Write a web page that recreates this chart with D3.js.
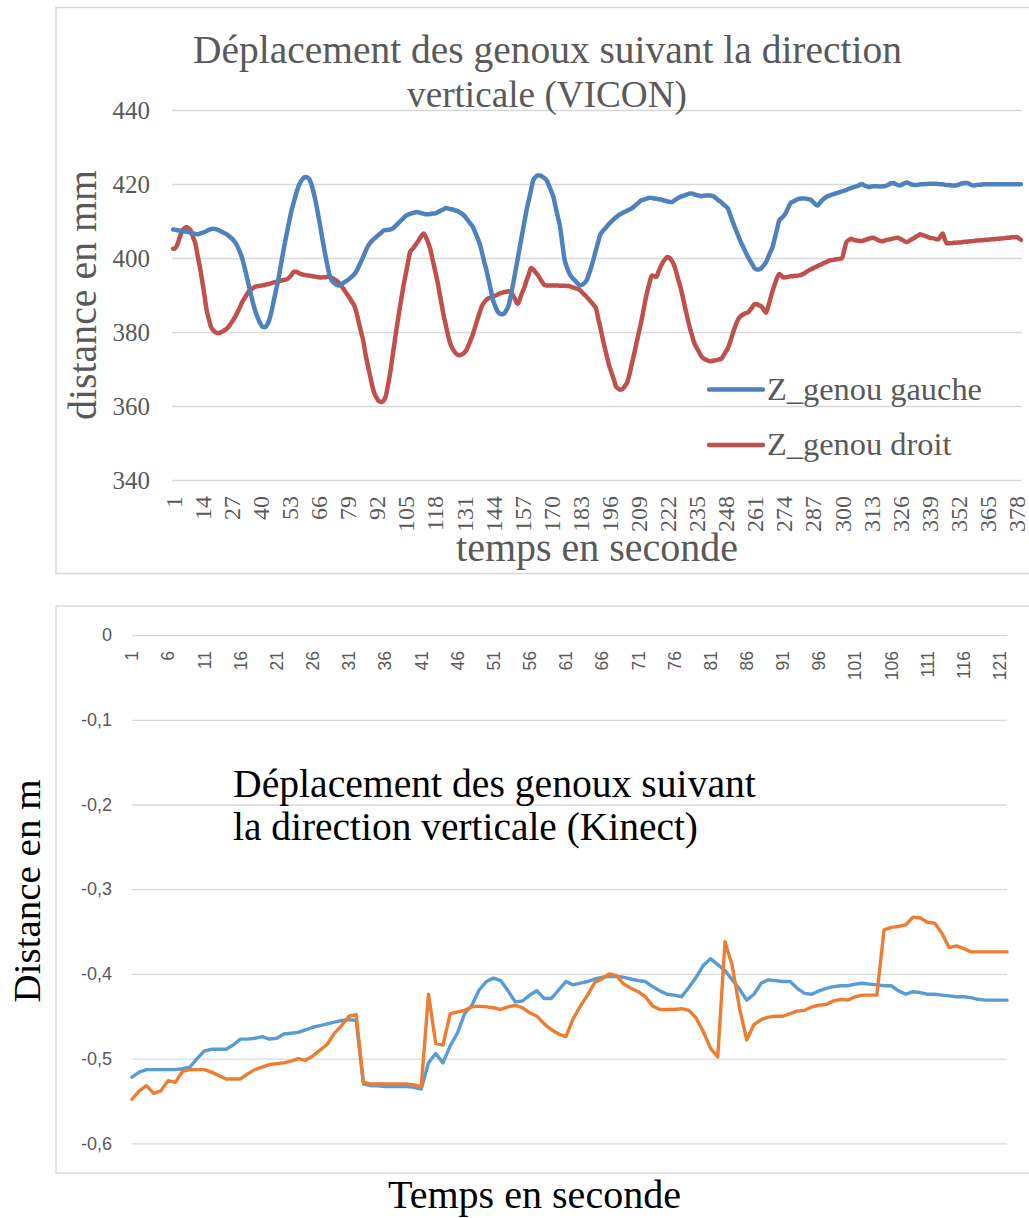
<!DOCTYPE html>
<html>
<head>
<meta charset="utf-8">
<script src="https://cdn.jsdelivr.net/npm/d3@7"></script>
<style>
  body { margin: 0; background: #fff; }
  svg { display: block; }
</style>
</head>
<body>
<svg id="chart" width="1029" height="1218"></svg>
<script>
// ---------- VICON : knee displacement (mm), one sample per category 1..380 ----------
const viconCategories = d3.range(1, 381);
const viconTickLabels = [1, 14, 27, 40, 53, 66, 79, 92, 105, 118, 131, 144, 157, 170, 183, 196, 209, 222, 235, 248, 261, 274, 287, 300, 313, 326, 339, 352, 365, 378];
const viconYTicks = [340, 360, 380, 400, 420, 440];

const zGenouGauche = [
  407.7, 407.6, 407.5, 407.4, 407.3, 407.2, 407.1, 407.0, 406.8, 406.6,
  406.5, 406.4, 406.6, 406.8, 407.0, 407.3, 407.6, 407.8, 407.9, 407.8,
  407.6, 407.3, 407.0, 406.7, 406.4, 405.9, 405.4, 404.8, 404.0, 402.8,
  401.4, 399.7, 397.3, 394.8, 392.2, 389.6, 387.2, 385.2, 383.6, 382.3,
  381.4, 381.3, 381.9, 383.3, 385.6, 388.5, 391.3, 394.0, 397.5, 400.9,
  404.2, 407.2, 410.2, 413.0, 415.2, 417.4, 419.3, 420.6, 421.4, 421.9,
  421.8, 421.2, 419.6, 417.2, 414.4, 411.2, 407.8, 404.2, 401.0, 397.9,
  395.2, 393.9, 393.2, 392.8, 392.6, 392.8, 393.2, 393.6, 394.0, 394.5,
  395.0, 395.6, 396.5, 397.7, 399.0, 400.4, 401.8, 403.1, 404.0, 404.7,
  405.3, 405.8, 406.3, 406.8, 407.4, 407.6, 407.6, 407.7, 407.9, 408.4,
  409.0, 409.6, 410.2, 410.8, 411.4, 411.7, 411.9, 412.1, 412.3, 412.4,
  412.3, 412.1, 412.0, 411.8, 411.8, 411.9, 412.0, 412.0, 412.3, 412.6,
  412.9, 413.2, 413.5, 413.4, 413.2, 413.1, 412.9, 412.7, 412.4, 412.0,
  411.5, 410.8, 410.0, 409.2, 408.4, 407.0, 405.5, 404.0, 401.7, 399.2,
  396.9, 394.2, 391.4, 388.7, 387.0, 385.6, 385.0, 384.8, 385.0, 385.9,
  387.2, 389.9, 393.0, 396.3, 399.6, 403.0, 406.3, 409.6, 412.9, 415.6,
  418.4, 421.0, 421.9, 422.3, 422.3, 422.0, 421.6, 421.0, 419.6, 418.1,
  416.5, 413.8, 411.1, 408.4, 403.9, 399.6, 397.6, 396.0, 395.0, 394.3,
  393.7, 393.0, 392.6, 392.8, 393.3, 394.1, 395.8, 397.7, 399.8, 402.1,
  404.3, 406.3, 407.2, 407.9, 408.6, 409.3, 409.9, 410.5, 411.0, 411.5,
  411.9, 412.2, 412.5, 412.8, 413.1, 413.4, 413.9, 414.4, 414.9, 415.5,
  415.7, 415.9, 416.1, 416.3, 416.2, 416.1, 416.0, 415.9, 415.8, 415.6,
  415.5, 415.3, 415.2, 415.1, 415.5, 415.9, 416.3, 416.6, 416.8, 417.0,
  417.2, 417.4, 417.4, 417.2, 417.0, 416.9, 416.7, 416.8, 416.9, 416.9,
  416.9, 416.8, 416.5, 416.0, 415.5, 415.1, 414.5, 414.0, 413.4, 411.8,
  410.1, 408.5, 407.0, 405.5, 404.0, 402.8, 401.5, 400.3, 399.2, 398.2,
  397.2, 396.9, 396.9, 397.3, 398.0, 398.8, 400.2, 401.6, 403.0, 405.4,
  407.8, 410.2, 410.8, 411.4, 412.3, 413.6, 414.8, 415.2, 415.5, 415.8,
  416.0, 416.1, 416.1, 416.0, 415.9, 415.8, 415.2, 414.6, 414.2, 414.8,
  415.5, 416.1, 416.5, 416.8, 417.0, 417.2, 417.4, 417.6, 417.8, 418.0,
  418.2, 418.4, 418.7, 418.9, 419.1, 419.3, 419.5, 419.8, 419.9, 419.6,
  419.4, 419.2, 419.3, 419.4, 419.4, 419.4, 419.3, 419.4, 419.4, 419.6,
  419.9, 420.2, 420.3, 420.0, 419.7, 419.6, 419.9, 420.2, 420.4, 420.2,
  419.9, 419.8, 419.7, 419.8, 419.9, 419.9, 420.0, 420.0, 420.1, 420.1,
  420.1, 420.1, 420.0, 419.9, 419.9, 419.8, 419.7, 419.7, 419.6, 419.6,
  419.6, 419.8, 420.0, 420.2, 420.3, 420.3, 420.0, 419.7, 419.6, 419.7,
  419.8, 419.8, 419.9, 419.9, 419.9, 419.9, 419.9, 419.9, 419.9, 419.9,
  419.9, 419.9, 419.9, 419.9, 419.9, 419.9, 419.9, 419.9, 419.9, 419.9
];

const zGenouDroit = [
  402.5, 402.7, 403.8, 405.7, 407.2, 408.0, 408.4, 408.0, 407.3, 405.5,
  403.8, 400.5, 397.4, 393.8, 389.9, 385.9, 383.4, 381.3, 380.4, 379.9,
  379.7, 379.8, 380.1, 380.5, 380.9, 381.6, 382.5, 383.4, 384.4, 385.6,
  386.9, 388.2, 389.2, 390.2, 391.1, 391.6, 392.0, 392.3, 392.4, 392.5,
  392.6, 392.7, 392.9, 393.0, 393.2, 393.4, 393.5, 393.7, 393.8, 394.0,
  394.1, 394.3, 394.8, 395.5, 396.3, 396.3, 396.0, 395.7, 395.5, 395.4,
  395.3, 395.2, 395.1, 395.0, 394.9, 394.8, 394.7, 394.8, 394.8, 394.9,
  394.9, 394.6, 394.3, 393.9, 393.4, 392.6, 391.8, 390.9, 390.0, 389.1,
  388.1, 387.1, 385.2, 382.6, 380.1, 377.6, 374.0, 371.1, 368.3, 365.5,
  363.4, 362.2, 361.3, 361.1, 361.4, 362.5, 365.4, 368.8, 373.0, 377.2,
  381.4, 385.2, 388.9, 392.5, 395.6, 398.8, 401.7, 402.4, 403.2, 404.1,
  405.0, 406.0, 406.6, 405.6, 404.2, 402.3, 399.6, 396.9, 394.2, 390.9,
  387.6, 384.3, 381.6, 378.9, 376.7, 375.4, 374.5, 373.9, 373.7, 373.9,
  374.3, 375.0, 376.3, 377.8, 379.4, 381.3, 383.3, 385.2, 386.9, 388.0,
  388.7, 389.1, 389.3, 389.6, 389.8, 390.1, 390.4, 390.6, 390.8, 390.9,
  391.0, 390.8, 389.8, 388.7, 387.6, 388.9, 390.6, 392.0, 393.9, 395.6,
  397.3, 396.9, 396.2, 395.4, 394.5, 393.5, 392.7, 392.6, 392.6, 392.6,
  392.6, 392.6, 392.6, 392.5, 392.5, 392.5, 392.4, 392.4, 392.2, 392.0,
  391.8, 391.6, 391.2, 390.6, 390.0, 389.4, 388.7, 388.0, 387.3, 386.5,
  383.8, 381.2, 378.3, 375.7, 373.2, 370.8, 369.0, 367.2, 365.3, 364.7,
  364.4, 364.6, 365.4, 366.4, 368.5, 371.2, 373.8, 376.6, 379.3, 382.0,
  385.0, 388.2, 391.0, 393.3, 395.3, 395.1, 394.9, 396.3, 397.7, 398.9,
  399.7, 400.3, 400.0, 399.2, 398.0, 396.0, 393.8, 391.7, 389.0, 386.3,
  383.6, 381.2, 379.0, 377.0, 375.8, 374.7, 373.6, 372.9, 372.6, 372.3,
  372.1, 372.2, 372.3, 372.4, 372.6, 372.7, 373.6, 374.6, 375.6, 377.3,
  379.2, 381.0, 382.6, 383.8, 384.4, 384.8, 385.1, 385.3, 386.0, 386.8,
  387.6, 387.5, 387.2, 386.9, 386.1, 385.2, 386.8, 389.0, 391.1, 392.9,
  394.6, 395.7, 395.2, 394.7, 394.8, 394.9, 395.1, 395.1, 395.2, 395.2,
  395.3, 395.5, 395.8, 396.2, 396.6, 396.9, 397.2, 397.5, 397.8, 398.1,
  398.3, 398.7, 398.9, 399.2, 399.4, 399.5, 399.6, 399.7, 399.8, 399.9,
  402.0, 404.3, 404.8, 405.2, 405.0, 404.8, 404.7, 404.6, 404.6, 404.8,
  405.0, 405.2, 405.4, 405.5, 405.2, 404.9, 404.6, 404.5, 404.7, 404.9,
  405.0, 405.1, 405.3, 405.4, 405.5, 405.2, 404.9, 404.5, 404.3, 404.6,
  405.0, 405.3, 405.7, 406.1, 406.4, 406.2, 406.0, 405.8, 405.5, 405.4,
  405.3, 405.1, 405.0, 405.8, 406.6, 405.0, 403.9, 404.0, 404.0, 404.1,
  404.1, 404.2, 404.2, 404.3, 404.4, 404.4, 404.5, 404.5, 404.6, 404.7,
  404.7, 404.8, 404.8, 404.9, 404.9, 405.0, 405.1, 405.1, 405.2, 405.2,
  405.3, 405.3, 405.4, 405.5, 405.5, 405.6, 405.6, 405.7, 405.4, 404.9
];

// ---------- Kinect : knee displacement (m), one sample per category 1..122 ----------
const kinectCategories = d3.range(1, 123);
const kinectTickLabels = [1, 6, 11, 16, 21, 26, 31, 36, 41, 46, 51, 56, 61, 66, 71, 76, 81, 86, 91, 96, 101, 106, 111, 116, 121];
const kinectYTicks = [0, -0.1, -0.2, -0.3, -0.4, -0.5, -0.6];

const kinectGauche = [
  -0.522, -0.516, -0.513, -0.513, -0.513, -0.513, -0.513, -0.512, -0.510, -0.500,
  -0.491, -0.489, -0.489, -0.489, -0.484, -0.477, -0.477, -0.476, -0.474, -0.477,
  -0.476, -0.471, -0.470, -0.469, -0.466, -0.463, -0.461, -0.459, -0.457, -0.455,
  -0.454, -0.455, -0.530, -0.532, -0.532, -0.533, -0.533, -0.533, -0.533, -0.534,
  -0.536, -0.505, -0.494, -0.505, -0.485, -0.470, -0.447, -0.437, -0.419, -0.409,
  -0.405, -0.408, -0.420, -0.433, -0.432, -0.425, -0.420, -0.429, -0.429, -0.419,
  -0.409, -0.413, -0.411, -0.409, -0.406, -0.404, -0.403, -0.403, -0.404, -0.406,
  -0.408, -0.409, -0.415, -0.420, -0.424, -0.425, -0.427, -0.416, -0.404, -0.390,
  -0.382, -0.389, -0.396, -0.407, -0.418, -0.431, -0.424, -0.411, -0.407, -0.408,
  -0.409, -0.409, -0.417, -0.423, -0.424, -0.420, -0.417, -0.415, -0.414, -0.414,
  -0.412, -0.411, -0.412, -0.413, -0.414, -0.414, -0.420, -0.424, -0.421, -0.422,
  -0.424, -0.424, -0.425, -0.426, -0.427, -0.427, -0.428, -0.430, -0.431, -0.431,
  -0.431, -0.431
];

const kinectDroit = [
  -0.548, -0.538, -0.532, -0.541, -0.538, -0.526, -0.528, -0.515, -0.513, -0.513,
  -0.513, -0.516, -0.520, -0.524, -0.524, -0.524, -0.518, -0.513, -0.510, -0.507,
  -0.506, -0.505, -0.503, -0.500, -0.502, -0.497, -0.490, -0.483, -0.470, -0.461,
  -0.450, -0.448, -0.528, -0.530, -0.530, -0.530, -0.530, -0.530, -0.530, -0.531,
  -0.533, -0.424, -0.482, -0.484, -0.447, -0.445, -0.443, -0.439, -0.438, -0.439,
  -0.440, -0.442, -0.439, -0.437, -0.440, -0.446, -0.450, -0.459, -0.466, -0.471,
  -0.474, -0.453, -0.438, -0.425, -0.410, -0.406, -0.400, -0.402, -0.412, -0.417,
  -0.421, -0.427, -0.438, -0.442, -0.442, -0.442, -0.441, -0.443, -0.452, -0.468,
  -0.488, -0.498, -0.362, -0.390, -0.440, -0.478, -0.460, -0.454, -0.451, -0.450,
  -0.450, -0.447, -0.444, -0.443, -0.439, -0.437, -0.436, -0.432, -0.430, -0.431,
  -0.427, -0.425, -0.425, -0.425, -0.348, -0.345, -0.344, -0.342, -0.333, -0.334,
  -0.339, -0.340, -0.352, -0.369, -0.367, -0.370, -0.374, -0.374, -0.374, -0.374,
  -0.374, -0.374
];

// ---------- shared helpers ----------
const svg = d3.select('#chart');
const GRID = '#d9d9d9';
const GREY_TEXT = '#595959';
const SERIF = "'Liberation Serif', 'DejaVu Serif', serif";
const SANS = "'Liberation Sans', Arial, sans-serif";

// scale a text's font size so its rendered width equals the wanted width
function fitWidth(sel, width) {
  const w = sel.node().getComputedTextLength();
  const fs = parseFloat(sel.attr('font-size'));
  sel.attr('font-size', (fs * width / w).toFixed(2));
  return sel;
}

// ================= VICON chart =================
const viconG = svg.append('g');
viconG.append('rect')
  .attr('x', 56).attr('y', 7.5).attr('width', 1000).attr('height', 566)
  .attr('fill', '#fff').attr('stroke', GRID).attr('stroke-width', 1.6);

const xV = d3.scalePoint().domain(viconCategories).range([172, 1022]).padding(0.5);
const yV = d3.scaleLinear().domain([340, 440]).range([480, 110]);

// horizontal gridlines + value labels
viconG.append('g')
  .attr('transform', 'translate(172,0)')
  .call(d3.axisLeft(yV).tickValues(viconYTicks).tickSize(-850).tickPadding(22).tickFormat(d3.format('d')))
  .call(g => g.select('.domain').remove())
  .call(g => g.selectAll('.tick line').attr('stroke', GRID).attr('stroke-width', 1.6))
  .call(g => g.selectAll('.tick text')
    .attr('fill', GREY_TEXT).attr('font-family', SERIF).attr('font-size', 25));

// rotated category labels
viconG.append('g').selectAll('text')
  .data(viconTickLabels)
  .join('text')
  .attr('transform', d => `translate(${xV(d)},496) rotate(-90)`)
  .attr('text-anchor', 'end')
  .attr('dy', '0.36em')
  .attr('fill', GREY_TEXT)
  .attr('font-family', SERIF)
  .attr('font-size', 24)
  .text(d => d);

const lineV = d3.line().x((d, i) => xV(viconCategories[i])).y(d => yV(d)).curve(d3.curveMonotoneX);

viconG.append('path').datum(zGenouDroit)
  .attr('d', lineV).attr('fill', 'none')
  .attr('stroke', '#c0504d').attr('stroke-width', 4.5)
  .attr('stroke-linejoin', 'round').attr('stroke-linecap', 'round');
viconG.append('path').datum(zGenouGauche)
  .attr('d', lineV).attr('fill', 'none')
  .attr('stroke', '#4f81bd').attr('stroke-width', 4.5)
  .attr('stroke-linejoin', 'round').attr('stroke-linecap', 'round');

// title
const t1 = viconG.append('text').attr('x', 547.5).attr('y', 63).attr('text-anchor', 'middle')
  .attr('fill', GREY_TEXT).attr('font-family', SERIF).attr('font-size', 36)
  .text('Déplacement des genoux suivant la direction');
fitWidth(t1, 709);
const t2 = viconG.append('text').attr('x', 547).attr('y', 107).attr('text-anchor', 'middle')
  .attr('fill', GREY_TEXT).attr('font-family', SERIF).attr('font-size', 36)
  .text('verticale (VICON)');
fitWidth(t2, 280);

// axis titles
const yTitleV = viconG.append('text')
  .attr('transform', 'translate(96,295) rotate(-90)')
  .attr('text-anchor', 'middle')
  .attr('fill', GREY_TEXT).attr('font-family', SERIF).attr('font-size', 36)
  .text('distance en mm');
fitWidth(yTitleV, 250);
const xTitleV = viconG.append('text')
  .attr('x', 597).attr('y', 561).attr('text-anchor', 'middle')
  .attr('fill', GREY_TEXT).attr('font-family', SERIF).attr('font-size', 34)
  .text('temps en seconde');
fitWidth(xTitleV, 282);

// legend
const legendV = [
  { name: 'Z_genou gauche', color: '#4f81bd', y: 389.5 },
  { name: 'Z_genou droit', color: '#c0504d', y: 445 }
];
const lg = viconG.append('g').selectAll('g').data(legendV).join('g');
lg.append('line')
  .attr('x1', 709).attr('x2', 763).attr('y1', d => d.y).attr('y2', d => d.y)
  .attr('stroke', d => d.color).attr('stroke-width', 4.5).attr('stroke-linecap', 'round');
const lgText = lg.append('text')
  .attr('x', 767).attr('y', d => d.y + 10)
  .attr('fill', GREY_TEXT).attr('font-family', SERIF).attr('font-size', 30)
  .text(d => d.name);
const lgFirst = d3.select(lgText.nodes()[0]);
fitWidth(lgFirst, 215);
lgText.attr('font-size', lgFirst.attr('font-size'));

// ================= Kinect chart =================
const kinectG = svg.append('g');
kinectG.append('rect')
  .attr('x', 56).attr('y', 606).attr('width', 1000).attr('height', 567)
  .attr('fill', '#fff').attr('stroke', GRID).attr('stroke-width', 1.4);

const xK = d3.scalePoint().domain(kinectCategories).range([132, 1007]).padding(0);
const yK = d3.scaleLinear().domain([-0.6, 0]).range([1143.3, 635.1]);
const frLocale = d3.formatLocale({ decimal: ',', thousands: ' ', grouping: [3], currency: ['', ' €'], minus: '-' });
const fmtK = d => d === 0 ? '0' : frLocale.format('.1f')(d);

kinectG.append('g')
  .attr('transform', 'translate(132,0)')
  .call(d3.axisLeft(yK).tickValues(kinectYTicks).tickSize(-875).tickPadding(20).tickFormat(fmtK))
  .call(g => g.select('.domain').remove())
  .call(g => g.selectAll('.tick line').attr('stroke', GRID).attr('stroke-width', 1.3))
  .call(g => g.selectAll('.tick text')
    .attr('fill', GREY_TEXT).attr('font-family', SANS).attr('font-size', 18));

kinectG.append('g').selectAll('text')
  .data(kinectTickLabels)
  .join('text')
  .attr('transform', d => `translate(${xK(d)},651) rotate(-90)`)
  .attr('text-anchor', 'end')
  .attr('dy', '0.36em')
  .attr('fill', GREY_TEXT)
  .attr('font-family', SANS)
  .attr('font-size', 17.5)
  .text(d => d);

const lineK = d3.line().x((d, i) => xK(kinectCategories[i])).y(d => yK(d));

kinectG.append('path').datum(kinectGauche)
  .attr('d', lineK).attr('fill', 'none')
  .attr('stroke', '#5b9bd5').attr('stroke-width', 3.4)
  .attr('stroke-linejoin', 'round').attr('stroke-linecap', 'round');
kinectG.append('path').datum(kinectDroit)
  .attr('d', lineK).attr('fill', 'none')
  .attr('stroke', '#ed7d31').attr('stroke-width', 3.4)
  .attr('stroke-linejoin', 'round').attr('stroke-linecap', 'round');

// title, left aligned in two lines
const k1 = kinectG.append('text').attr('x', 233).attr('y', 797)
  .attr('fill', '#000').attr('font-family', SERIF).attr('font-size', 34)
  .text('Déplacement des genoux suivant');
fitWidth(k1, 523);
const k2 = kinectG.append('text').attr('x', 233).attr('y', 840)
  .attr('fill', '#000').attr('font-family', SERIF).attr('font-size', 34)
  .text('la direction verticale (Kinect)');
fitWidth(k2, 465);

const yTitleK = kinectG.append('text')
  .attr('transform', 'translate(40,891) rotate(-90)')
  .attr('text-anchor', 'middle')
  .attr('fill', '#000').attr('font-family', SERIF).attr('font-size', 32)
  .text('Distance en m');
fitWidth(yTitleK, 223);
const xTitleK = kinectG.append('text')
  .attr('x', 534.5).attr('y', 1208).attr('text-anchor', 'middle')
  .attr('fill', '#000').attr('font-family', SERIF).attr('font-size', 32)
  .text('Temps en seconde');
fitWidth(xTitleK, 293);
</script>
</body>
</html>
